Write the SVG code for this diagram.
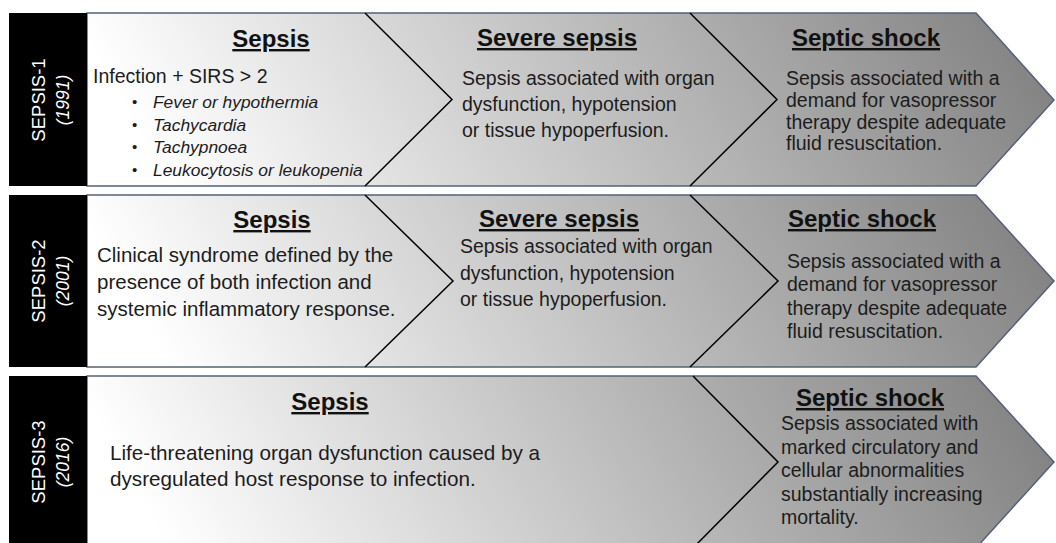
<svg xmlns="http://www.w3.org/2000/svg" width="1056" height="543" viewBox="0 0 1056 543">
<defs>
<linearGradient id="g" x1="0" y1="0.55" x2="1" y2="0.45">
<stop offset="0" stop-color="#ffffff"/>
<stop offset="0.04" stop-color="#ffffff"/>
<stop offset="1" stop-color="#838383"/>
</linearGradient>
<style>
.band{fill:url(#g);stroke:#56607a;stroke-width:1.5}
.lab{fill:#000}
.lt{font-family:"Liberation Sans",Arial,sans-serif;fill:#fff;text-anchor:middle}
.lt1{font-size:18.5px}
.lt2{font-size:17.5px;font-style:italic}
.ttl{font-family:"Liberation Sans",Arial,sans-serif;font-size:24px;font-weight:bold;fill:#111;text-anchor:middle;text-decoration:underline}
.bd{font-family:"Liberation Sans",Arial,sans-serif;font-size:19.5px;fill:#1c1c1c}
.bi{font-family:"Liberation Sans",Arial,sans-serif;font-size:17.4px;font-style:italic;fill:#1c1c1c}
.bu{font-family:"Liberation Sans",Arial,sans-serif;font-size:15px;fill:#1c1c1c}
.div{fill:none;stroke:#000;stroke-width:1.5}
</style>
</defs>
<rect width="1056" height="543" fill="#fff"/>

<g id="row1">
<path class="band" d="M87,13 L976,13 L1054,100 L976,186 L87,186 Z"/>
<g id="label-sepsis1">
<rect class="lab" x="9" y="13" width="78" height="173"/>
<text class="lt lt1" transform="translate(45,100) rotate(-90)">SEPSIS-1</text>
<text class="lt lt2" transform="translate(69,100) rotate(-90)">(1991)</text>
</g>
<g id="r1-sepsis">
<text class="ttl" x="271" y="47">Sepsis</text>
<text class="bd" x="93" y="83">Infection + SIRS &gt; 2</text>
<text class="bu" x="132" y="107">•</text>
<text class="bi" x="153" y="108">Fever or hypothermia</text>
<text class="bu" x="132" y="130">•</text>
<text class="bi" x="153" y="131">Tachycardia</text>
<text class="bu" x="132" y="152">•</text>
<text class="bi" x="153" y="153">Tachypnoea</text>
<text class="bu" x="132" y="175">•</text>
<text class="bi" x="153" y="176">Leukocytosis or leukopenia</text>
</g>
<g id="r1-severe">
<text class="ttl" x="557" y="46">Severe sepsis</text>
<text class="bd" x="462" y="85">Sepsis associated with organ</text>
<text class="bd" x="462" y="111">dysfunction, hypotension</text>
<text class="bd" x="462" y="137">or tissue hypoperfusion.</text>
</g>
<g id="r1-shock">
<text class="ttl" x="866" y="46">Septic shock</text>
<text class="bd" x="786" y="85">Sepsis associated with a</text>
<text class="bd" x="786" y="107">demand for vasopressor</text>
<text class="bd" x="786" y="128.5">therapy despite adequate</text>
<text class="bd" x="786" y="150">fluid resuscitation.</text>
</g>
</g>

<g id="row2">
<path class="band" d="M87,195 L976,195 L1054,281 L976,367 L87,367 Z"/>
<g id="label-sepsis2">
<rect class="lab" x="9" y="195" width="78" height="172"/>
<text class="lt lt1" transform="translate(45,281) rotate(-90)">SEPSIS-2</text>
<text class="lt lt2" transform="translate(69,281) rotate(-90)">(2001)</text>
</g>
<g id="r2-sepsis">
<text class="ttl" x="272" y="228">Sepsis</text>
<text class="bd" x="97" y="262" style="font-size:20.5px">Clinical syndrome defined by the</text>
<text class="bd" x="97" y="289" style="font-size:20.5px">presence of both infection and</text>
<text class="bd" x="97" y="316" style="font-size:20.5px">systemic inflammatory response.</text>
</g>
<g id="r2-severe">
<text class="ttl" x="559" y="227">Severe sepsis</text>
<text class="bd" x="460" y="253">Sepsis associated with organ</text>
<text class="bd" x="460" y="280">dysfunction, hypotension</text>
<text class="bd" x="460" y="306">or tissue hypoperfusion.</text>
</g>
<g id="r2-shock">
<text class="ttl" x="862" y="227">Septic shock</text>
<text class="bd" x="787" y="268">Sepsis associated with a</text>
<text class="bd" x="787" y="291">demand for vasopressor</text>
<text class="bd" x="787" y="314.5">therapy despite adequate</text>
<text class="bd" x="787" y="338">fluid resuscitation.</text>
</g>
</g>

<g id="row3">
<path class="band" d="M87,376 L976,376 L1054,462 L976,548 L87,548 Z"/>
<g id="label-sepsis3">
<rect class="lab" x="9" y="376" width="78" height="172"/>
<text class="lt lt1" transform="translate(45,462) rotate(-90)">SEPSIS-3</text>
<text class="lt lt2" transform="translate(69,462) rotate(-90)">(2016)</text>
</g>
<g id="r3-sepsis">
<text class="ttl" x="330" y="410">Sepsis</text>
<text class="bd" x="110" y="460" style="font-size:20.7px">Life-threatening organ dysfunction caused by a</text>
<text class="bd" x="110" y="486" style="font-size:20.7px">dysregulated host response to infection.</text>
</g>
<g id="r3-shock">
<text class="ttl" x="870" y="406">Septic shock</text>
<text class="bd" x="781" y="430">Sepsis associated with</text>
<text class="bd" x="781" y="453.5">marked circulatory and</text>
<text class="bd" x="781" y="477">cellular abnormalities</text>
<text class="bd" x="781" y="500.5">substantially increasing</text>
<text class="bd" x="781" y="524">mortality.</text>
</g>
</g>

<g id="connectors">
<polyline class="div" points="365,13 452,99.5 365,186"/>
<polyline class="div" points="690,13 777,99.5 690,186"/>
<polyline class="div" points="365,195 453,281 365,367"/>
<polyline class="div" points="690,195 778,281 690,367"/>
<polyline class="div" points="693,376 778,462 693,548"/>
</g>
</svg>
